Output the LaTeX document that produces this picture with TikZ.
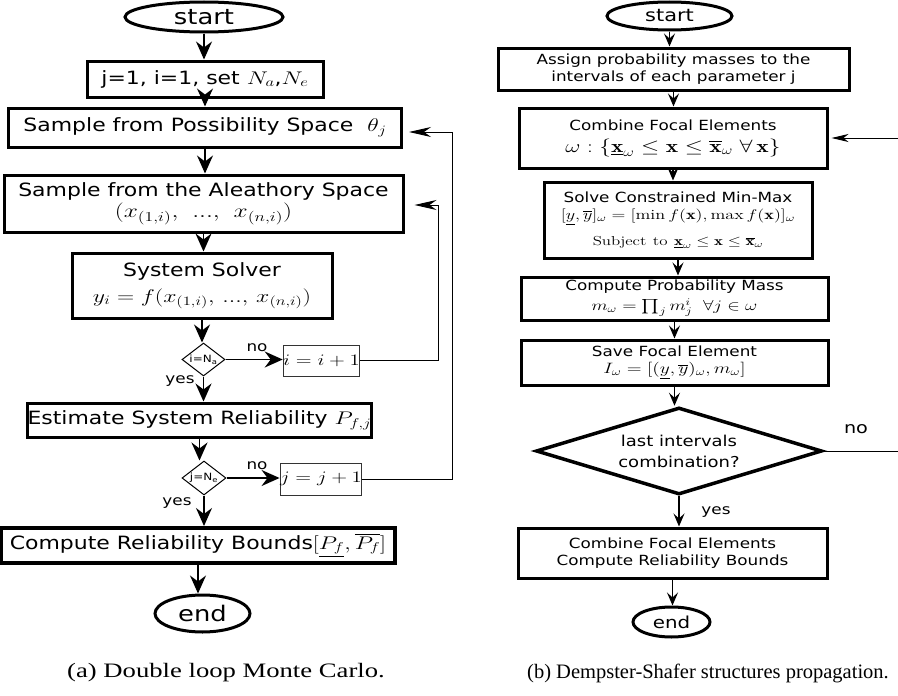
\RequirePackage{fix-cm}
\documentclass[tikz,border=0pt]{standalone}
\usepackage{amsmath}
\usepackage{graphicx}
\usepackage{fontspec}
\newfontfamily\dv[FakeStretch=1.2]{DejaVu Sans}
\newfontfamily\tms{Liberation Serif}
\usetikzlibrary{shapes.geometric,arrows.meta}
\newcommand\MS[1]{\scalebox{1.3}[1]{$#1$}}
\tikzset{
  box/.style={draw, line width=3pt, rectangle, inner sep=0pt, align=center},
  lbox/.style={box, font=\dv\fontsize{18.3}{24}\selectfont},
  rbox/.style={box, font=\dv\fontsize{14}{17}\selectfont},
  incbox/.style={draw=black!80, line width=1pt, rectangle, inner sep=0pt, font=\fontsize{16}{18}\selectfont},
  term/.style={draw, ellipse, line width=3pt, inner sep=0pt},
  dec/.style={draw, diamond, line width=1pt, inner sep=0pt, aspect=1.3, font=\dv\fontsize{10}{12}\selectfont},
  arrL/.style={line width=1.5pt, -{Stealth[length=18pt,width=16pt,inset=6pt]}},
  arrR/.style={line width=1.2pt, -{Stealth[length=13pt,width=11pt,inset=5pt]}},
  loopL/.style={line width=1pt, -{Stealth[length=22pt,width=10pt,inset=7pt]}},
  loopR/.style={line width=1pt, -{Stealth[length=17pt,width=8pt,inset=5pt]}},
  lbl/.style={inner sep=0pt, font=\dv\fontsize{14}{16}\selectfont},
  captxt/.style={inner sep=0pt, font=\tms\fontsize{20.5}{24}\selectfont},
}
\begin{document}
\begin{tikzpicture}[x=1pt,y=-1pt]
\useasboundingbox (0,0) rectangle (898,696);
% ---------- (a) Double loop Monte Carlo ----------
\node[term, minimum width=158pt, minimum height=30pt, font=\dv\fontsize{21.5}{24}\selectfont] (sa) at (204,17) {start};
\node[lbox, minimum width=236pt, minimum height=36pt] (a1) at (205,79) {j=1, i=1, set \MS{N_a},\MS{N_e}};
\node[lbox, minimum width=393pt, minimum height=39pt] (a2) at (205,127.5) {Sample from Possibility Space \ \MS{\theta_j}};
\node[lbox, minimum width=399pt, minimum height=57pt] (a3) at (203.5,203.5) {Sample from the Aleathory Space\\[-3pt] {\fontsize{19.5}{22}\selectfont\MS{(x_{(1,i)},\ ...,\ x_{(n,i)})}}};
\node[lbox, minimum width=260pt, minimum height=65pt] (a4) at (202,285.5) {System Solver\\[2pt] \MS{y_i = f(x_{(1,i)},\,...,\,x_{(n,i)})}};
\node[dec, minimum width=43pt, minimum height=33pt] (d1) at (203.5,359.5) {i=N\textsubscript{a}};
\node[incbox, minimum width=69pt, minimum height=31pt] (i1) at (321.5,360.5) {\MS{i=i+1}};
\node[lbox, minimum width=339pt, minimum height=34pt] (a5) at (199.5,420) {Estimate System Reliability \MS{P_{f,j}}};
\node[dec, minimum width=44pt, minimum height=34pt] (d2) at (204,478) {j=N\textsubscript{e}};
\node[incbox, minimum width=74pt, minimum height=32pt] (i2) at (321,479) {\MS{j=j+1}};
\node[lbox, line width=4pt, minimum width=394pt, minimum height=35pt] (a6) at (198,545.5) {Compute Reliability Bounds\MS{[\underline{P_f},\overline{P_f}]}};
\node[term, minimum width=95pt, minimum height=37pt, font=\dv\fontsize{21.5}{24}\selectfont] (ea) at (202.5,613.5) {end};
\node[lbl] (no1) at (257,348) {no};
\node[lbl] (yes1) at (180,381) {yes};
\node[lbl] (no2) at (257,466) {no};
\node[lbl] (yes2) at (177,503) {yes};
\draw[arrL] (sa.south) -- (sa.south |- a1.north);
\draw[arrL] (a1.south) -- (a1.south |- a2.north);
\draw[arrL] (a2.south) -- (a2.south |- a3.north);
\draw[arrL] (a3.south) -- (a3.south |- a4.north);
\draw[arrL] (a4.south) -- (a4.south |- d1.north);
\draw[arrL] (d1.south) -- (d1.south |- a5.north);
\draw[arrL] (a5.south) -- (a5.south |- d2.north);
\draw[arrL] (d2.south) -- (d2.south |- a6.north);
\draw[arrL] (a6.south) -- (a6.south |- ea.north);
\draw[arrL] (d1.east) -- (d1.east -| i1.west);
\draw[arrL] (d2.east) -- (d2.east -| i2.west);
\coordinate (r1) at (438,0);
\coordinate (r2) at (452,0);
\coordinate (a3p) at ([yshift=-1.5pt]a3.east);
\coordinate (a2p) at ([yshift=-4.5pt]a2.east);
\draw[loopL, shorten >=10pt] (i1.east) -| (r1 |- a3p) -- (a3p);
\draw[loopL, shorten >=6pt] (i2.east) -| (r2 |- a2p) -- (a2p);
\node[captxt] (capa) at (226,673) {\scalebox{1.3}[1]{(a) Double loop Monte Carlo.}};
% ---------- (b) Dempster-Shafer ----------
\node[term, minimum width=125pt, minimum height=28pt, font=\dv\fontsize{17.4}{20}\selectfont] (sb) at (669.5,16) {start};
\node[rbox, minimum width=351pt, minimum height=42pt] (c1) at (673.5,69) {Assign probability masses to the\\intervals of each parameter j};
\node[rbox, minimum width=308pt, minimum height=60pt] (c2) at (673,138) {Combine Focal Elements\\[5pt] {\fontsize{18}{20}\selectfont\MS{\omega: \{\underline{\mathbf{x}}_\omega \leq \mathbf{x} \leq \overline{\mathbf{x}}_\omega \;\forall\, \mathbf{x}\}}}};
\node[rbox, minimum width=268pt, minimum height=76pt] (c3) at (678,220) {Solve Constrained Min-Max\\[0pt] {\fontsize{14}{16}\selectfont\MS{[\underline{y},\overline{y}]_\omega=[\min f(\mathbf{x}),\max f(\mathbf{x})]_\omega}}\\[9pt] {\fontsize{13}{15}\selectfont\MS{\mathrm{Subject\ to}\ \underline{\mathbf{x}}_\omega\leq\mathbf{x}\leq\overline{\mathbf{x}}_\omega}}};
\node[rbox, minimum width=307pt, minimum height=43pt] (c4) at (674.5,298.5) {Compute Probability Mass\\[3pt] {\fontsize{14.5}{17}\selectfont\MS{m_\omega=\prod_j m_j^i \;\;\forall j\in\omega}}};
\node[rbox, minimum width=307pt, minimum height=45pt] (c5) at (674.5,362.5) {Save Focal Element\\[0pt] {\fontsize{15}{17}\selectfont\MS{I_\omega=[(\underline{y},\overline{y})_\omega,m_\omega]}}};
\node[draw, diamond, aspect=3.3, line width=3.5pt, inner sep=0pt, align=center, minimum width=286pt, minimum height=87pt, font=\dv\fontsize{15}{21}\selectfont] (cd) at (679,451) {last intervals\\combination?};
\node[rbox, minimum width=309pt, minimum height=50pt] (c6) at (672.5,553) {Combine Focal Elements\\Compute Reliability Bounds};
\node[term, minimum width=77pt, minimum height=30pt, font=\dv\fontsize{16.5}{20}\selectfont] (eb) at (671.5,622) {end};
\node[lbl, font=\dv\fontsize{16}{18}\selectfont] (no3) at (856,429) {no};
\node[lbl] (yes3) at (716,512) {yes};
\draw[arrR] (sb.south) -- (sb.south |- c1.north);
\draw[arrR] (c1.south) -- (c1.south |- c2.north);
\draw[arrR] (c2.south) -- (c2.south |- c3.north);
\draw[arrR] (c3.south) -- (c3.south |- c4.north);
\draw[arrR] (c4.south) -- (c4.south |- c5.north);
\draw[arrR] (c5.south) -- (c5.south |- cd.north);
\draw[arrR] (cd.south) -- (cd.south |- c6.north);
\draw[arrR] (c6.south) -- (c6.south |- eb.north);
\coordinate (rr) at (912,0);
\draw[loopR, shorten >=3pt] (cd.east) -| (rr |- c2.east) -- (c2.east);
\node[captxt] (capb) at (708,673) {(b) Dempster-Shafer structures propagation.};
\end{tikzpicture}
\end{document}
